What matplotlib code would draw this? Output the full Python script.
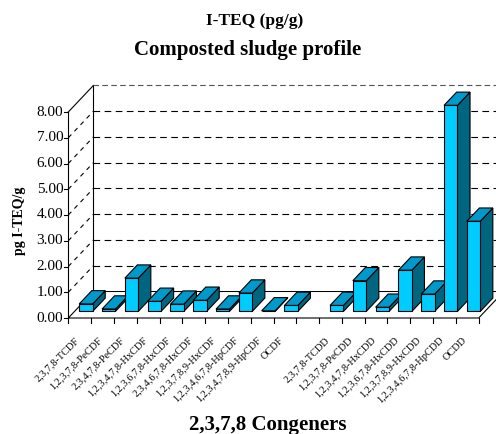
import numpy as np
import matplotlib
matplotlib.use('Agg')
import matplotlib.pyplot as plt
from matplotlib.patches import Polygon

# congener concentrations, pg I-TEQ/g
congeners = ['2,3,7,8-TCDF', '1,2,3,7,8-PeCDF', '2,3,4,7,8-PeCDF',
             '1,2,3,4,7,8-HxCDF', '1,2,3,6,7,8-HxCDF', '2,3,4,6,7,8-HxCDF',
             '1,2,3,7,8,9-HxCDF', '1,2,3,4,6,7,8-HpCDF', '1,2,3,4,7,8,9-HpCDF',
             'OCDF', '', '2,3,7,8-TCDD', '1,2,3,7,8-PeCDD', '1,2,3,4,7,8-HxCDD',
             '1,2,3,6,7,8-HxCDD', '1,2,3,7,8,9-HxCDD', '1,2,3,4,6,7,8-HpCDD', 'OCDD']
teq = [0.29, 0.09, 1.29, 0.39, 0.28, 0.43, 0.09, 0.71, 0.02,
       0.23, np.nan, 0.23, 1.19, 0.16, 1.60, 0.67, 8.0, 3.5]
yticks = np.arange(0, 9, 1)

serif = 'Liberation Serif'
W, H = 496, 434
fig = plt.figure(figsize=(W/100, H/100), dpi=100)
# front plane of the box in pixels: x 68..479, y(0)=318, y(8)=112 from top
ax = fig.add_axes([68.3/W, (H-318)/H, 410.4/W, 206/H])
n = len(congeners)
ax.set_xlim(0, n)
ax.set_ylim(0, 8)
ax.axis('off')

DX, DY = 1.10, 1.03      # depth of the box in data units
lw = 0.8

def poly(pts, fc, ec='black', ls='-', z=1):
    p = Polygon(pts, closed=True, facecolor=fc, edgecolor=ec, linewidth=lw,
                linestyle=ls, clip_on=False, zorder=z, joinstyle='miter')
    ax.add_patch(p)

top = yticks[-1]
# floor and walls
poly([(0, 0), (n, 0), (n+DX, DY), (DX, DY)], 'white', z=1)
poly([(DX, DY), (n+DX, DY), (n+DX, top+DY), (DX, top+DY)], 'white', ec='none', z=1)
ax.plot([0, 0], [0, top], color='black', lw=lw, clip_on=False, zorder=2)
ax.plot([0, DX], [top, top+DY], color='black', lw=lw, clip_on=False, zorder=2)
ax.plot([DX, DX], [DY, top+DY], color='black', lw=lw, clip_on=False, zorder=2)
ax.plot([DX, n+DX], [top+DY, top+DY], color='#555555', lw=lw, ls=(0, (5, 3)),
        clip_on=False, zorder=2)

# gridlines on back and side walls
for v in yticks[1:-1]:
    ax.plot([DX, n+DX], [v+DY, v+DY], color='black', lw=lw, ls=(0, (6, 4)),
            clip_on=False, zorder=2)
    ax.plot([0, DX], [v, v+DY], color='black', lw=lw, ls=(0, (4, 4)),
            clip_on=False, zorder=2)

# y ticks and labels
for v in yticks:
    ax.plot([-0.18, 0], [v, v], color='black', lw=lw, clip_on=False, zorder=2)
    ax.text(-0.22, v, f'{v:.2f}', ha='right', va='center', fontsize=11,
            family=serif)

# x ticks and labels
for i in range(n + 1):
    ax.plot([i, i], [0, -0.2], color='black', lw=lw, clip_on=False, zorder=2)
for i, lab in enumerate(congeners):
    ax.text(i + 0.4, -0.8, lab, rotation=45, rotation_mode='anchor',
            ha='right', va='center', fontsize=7.5, family=serif)

# 3D bars
front_c, top_c, side_c = '#00ccff', '#0099cc', '#006680'
bw = 0.59
d0, d1 = 0.25, 0.75
for i, v in enumerate(teq):
    if np.isnan(v):
        continue
    x0 = i + 0.5 - bw/2
    x1 = x0 + bw
    a, b = d0*DX, d0*DY
    c, d = d1*DX, d1*DY
    poly([(x1+a, b), (x1+c, d), (x1+c, v+d), (x1+a, v+b)], side_c, z=3)
    poly([(x0+a, v+b), (x1+a, v+b), (x1+c, v+d), (x0+c, v+d)], top_c, z=3)
    poly([(x0+a, b), (x1+a, b), (x1+a, v+b), (x0+a, v+b)], front_c, z=3)

fig.text(255/W, 1-21/H, 'I-TEQ (pg/g)', ha='center', va='center',
         fontsize=12.5, fontweight='bold', family=serif)
fig.text(248/W, 1-50/H, 'Composted sludge profile', ha='center', va='center',
         fontsize=15, fontweight='bold', family=serif)
fig.text(268/W, 1-425/H, '2,3,7,8 Congeners', ha='center', va='center',
         fontsize=15, fontweight='bold', family=serif)
fig.text(20/W, 1-221/H, 'pg I-TEQ/g', ha='center', va='center', rotation=90,
         fontsize=10, fontweight='bold', family=serif)

fig.savefig('out.png', dpi=100)
